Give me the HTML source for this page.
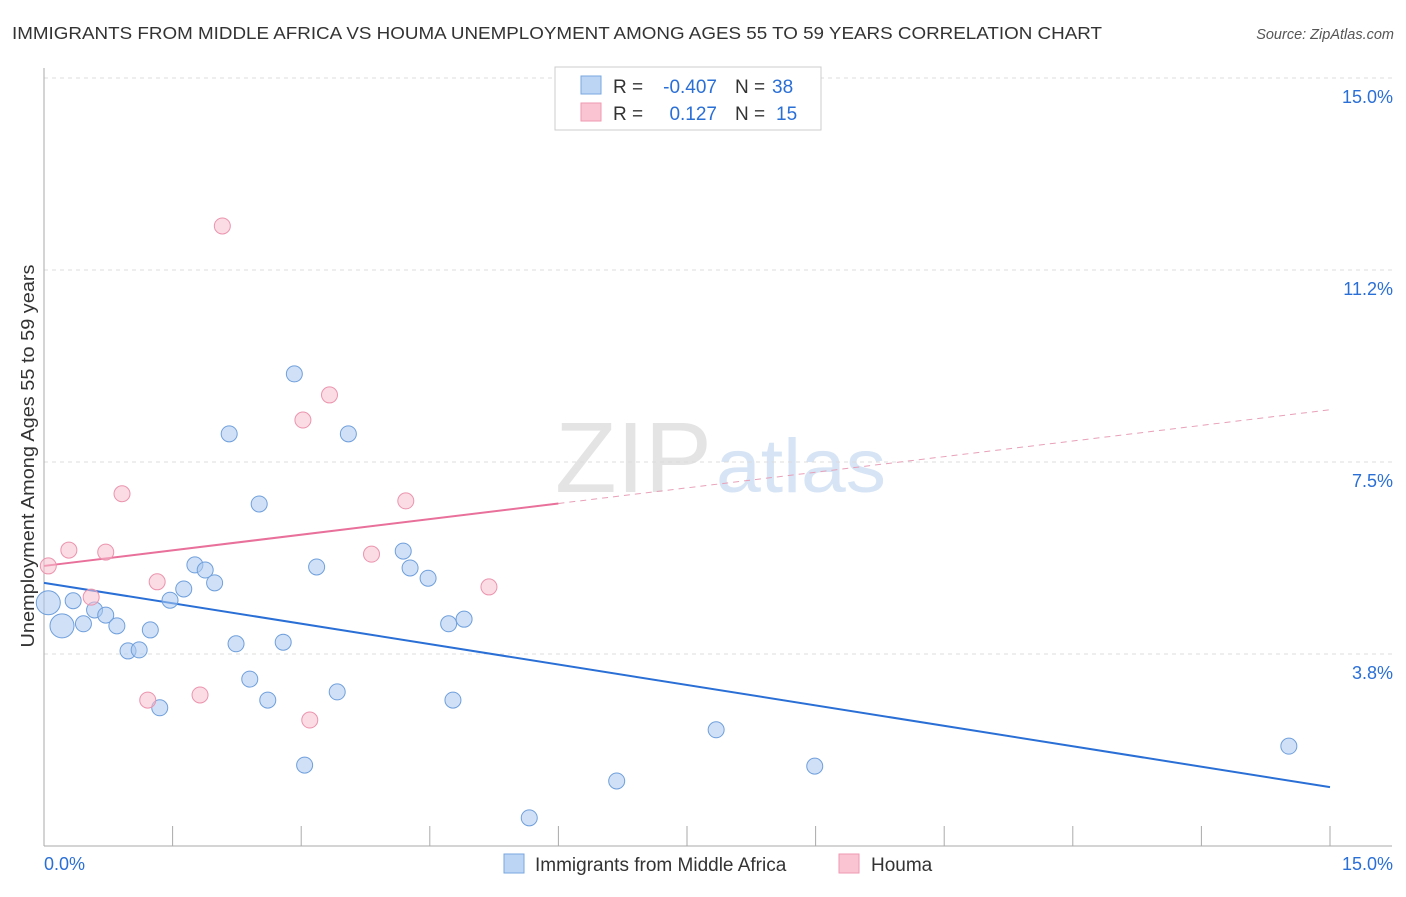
<!DOCTYPE html>
<html><head><meta charset="utf-8"><style>
body{margin:0;background:#fff;font-family:"Liberation Sans",sans-serif}
text{font-family:"Liberation Sans",sans-serif}
</style></head><body>
<svg id="c" width="1406" height="892">
<text x="12" y="39" font-size="17.5" fill="#333" textLength="1090" lengthAdjust="spacingAndGlyphs">IMMIGRANTS FROM MIDDLE AFRICA VS HOUMA UNEMPLOYMENT AMONG AGES 55 TO 59 YEARS CORRELATION CHART</text>
<text x="1394" y="39" font-size="14.5" fill="#555" text-anchor="end" font-style="italic">Source: ZipAtlas.com</text>
<text x="712" y="492" font-size="100" fill="#e4e4e4" text-anchor="end" font-family="Liberation Serif" textLength="157" lengthAdjust="spacingAndGlyphs">ZIP</text>
<text x="716" y="492" font-size="76" fill="#d6e4f5" textLength="170" lengthAdjust="spacingAndGlyphs">atlas</text>
<g id="grid"></g><g id="axes"></g><g id="lines"></g><g id="pts"></g>
<text transform="translate(34,456) rotate(-90)" font-size="18" fill="#333" text-anchor="middle" textLength="383" lengthAdjust="spacingAndGlyphs">Unemployment Among Ages 55 to 59 years</text>
<g>
<rect x="555" y="67" width="266" height="63" fill="#fff" stroke="#ccc"/>
<rect x="581" y="76" width="20" height="18" fill="#bcd5f5" stroke="#7aa7e0"/>
<rect x="581" y="103" width="20" height="18" fill="#fac4d2" stroke="#ef9ab2"/>
<text x="613" y="93" font-size="19" fill="#333">R =</text>
<text x="717" y="93" font-size="19" fill="#2a6fd6" text-anchor="end">-0.407</text>
<text x="735" y="93" font-size="19" fill="#333">N =</text>
<text x="772" y="93" font-size="19" fill="#2a6fd6">38</text>
<text x="613" y="120" font-size="19" fill="#333">R =</text>
<text x="717" y="120" font-size="19" fill="#2a6fd6" text-anchor="end">0.127</text>
<text x="735" y="120" font-size="19" fill="#333">N =</text>
<text x="776" y="120" font-size="19" fill="#2a6fd6">15</text>
</g>
<g>
<rect x="504" y="854" width="20" height="19" fill="#bcd5f5" stroke="#7aa7e0"/>
<text x="535" y="871" font-size="19" fill="#333">Immigrants from Middle Africa</text>
<rect x="839" y="854" width="20" height="19" fill="#fac4d2" stroke="#ef9ab2"/>
<text x="871" y="871" font-size="19" fill="#333">Houma</text>
</g>
</svg>
<script>
const yTicks=[3.75,7.5,11.25,15];
const yTickLabels=["3.8%","7.5%","11.2%","15.0%"];
const blueX=[0.05,0.21,0.34,0.46,0.59,0.72,0.85,0.98,1.11,1.24,1.35,1.47,1.63,1.76,1.88,1.99,2.16,2.24,2.40,2.51,2.61,2.79,2.92,3.04,3.18,3.42,3.55,4.19,4.27,4.48,4.72,4.77,4.90,5.66,6.68,7.84,8.99,14.52];
const blueY=[4.75,4.30,4.79,4.34,4.61,4.51,4.30,3.81,3.83,4.22,2.70,4.80,5.02,5.49,5.39,5.14,8.05,3.95,3.26,6.68,2.85,3.98,9.22,1.58,5.45,3.01,8.05,5.76,5.43,5.23,4.34,2.85,4.43,0.55,1.27,2.27,1.56,1.95];
const pinkX=[0.05,0.29,0.55,0.72,0.91,1.21,1.32,1.82,2.08,3.02,3.10,3.33,3.82,4.22,5.19];
const pinkY=[5.47,5.78,4.86,5.74,6.88,2.85,5.16,2.95,12.11,8.32,2.46,8.81,5.70,6.74,5.06];
const blueTrend=[5.14,1.15];
const pinkTrend=[5.47,8.52];
const NS="http://www.w3.org/2000/svg";
const X=v=>44+v/15*1286, Y=v=>846-v*51.2;
function mk(p,t,a){const e=document.createElementNS(NS,t);for(const k in a)e.setAttribute(k,a[k]);document.getElementById(p).appendChild(e);return e;}
yTicks.forEach((t,i)=>{
 const g=mk('grid','line',{x1:44,x2:1392,y1:Y(t),y2:Y(t),stroke:'#ddd','stroke-dasharray':'4,4'});
 
 
 const l=mk('grid','text',{x:1393,y:Y(t)+25,'font-size':18,fill:'#2a6fd6','text-anchor':'end'});
 l.textContent=yTickLabels[i];
 
 
});
const ax=mk('axes','line',{x1:44,x2:44,y1:68,y2:846,stroke:'#aaa'});


const bx=mk('axes','line',{x1:44,x2:1392,y1:846,y2:846,stroke:'#aaa'});


for(let i=0;i<=10;i++){const t=mk('axes','line',{x1:X(i*1.5),x2:X(i*1.5),y1:826,y2:846,stroke:'#aaa'});
 
 }
[["0.0%",44,'start'],["15.0%",1393,'end']].forEach(([s,x,a])=>{const t=mk('axes','text',{x:x,y:870,'font-size':18,fill:'#2a6fd6','text-anchor':a});t.textContent=s;
 
 });
const bl=mk('lines','line',{x1:X(0),y1:Y(blueTrend[0]),x2:X(15),y2:Y(blueTrend[1]),stroke:'#2a6fd6','stroke-width':2});


const pm=pinkTrend[0]+(pinkTrend[1]-pinkTrend[0])*6/15;
const pl=mk('lines','line',{x1:X(0),y1:Y(pinkTrend[0]),x2:X(6),y2:Y(pm),stroke:'#e8709a','stroke-width':2});


const pd=mk('lines','line',{x1:X(6),y1:Y(pm),x2:X(15),y2:Y(pinkTrend[1]),stroke:'#e8a0b8','stroke-width':1,'stroke-dasharray':'6,5'});


blueX.forEach((v,i)=>{const c=mk('pts','circle',{cx:X(v),cy:Y(blueY[i]),r:i<2?12:8,fill:'rgba(170,200,240,0.55)',stroke:'#6f9fdc'});
 
 });
pinkX.forEach((v,i)=>{const c=mk('pts','circle',{cx:X(v),cy:Y(pinkY[i]),r:8,fill:'rgba(248,190,205,0.55)',stroke:'#eb94ae'});
 
 });
</script>
</body></html>
